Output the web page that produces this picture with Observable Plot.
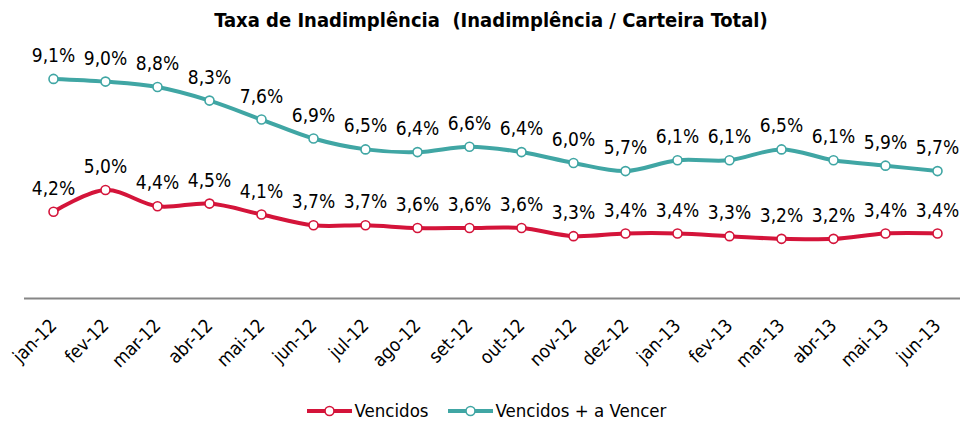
<!DOCTYPE html>
<html>
<head>
<meta charset="utf-8">
<script src="https://cdn.jsdelivr.net/npm/d3@7"></script>
<script src="https://cdn.jsdelivr.net/npm/@observablehq/plot@0.6"></script>
<style>
  html, body { margin: 0; padding: 0; background: #fff; }
  body { width: 960px; height: 423px; overflow: hidden; font-family: "DejaVu Sans Condensed", "DejaVu Sans", sans-serif; }
  #title { height: 40px; line-height: 40px; text-align: center; font-weight: bold; font-size: 20px; color: #000; padding-left: 22px; }
  #chart svg { display: block; }
  #legend { height: 33px; padding-top: 8px; padding-left: 12px; box-sizing: border-box; display: flex; justify-content: center; align-items: center; font-size: 18.5px; color: #000; }
  .item { display: flex; align-items: center; }
  .item svg { display: block; margin-right: 2px; }
</style>
</head>
<body>
<div id="title">Taxa de Inadimplência&nbsp; (Inadimplência / Carteira Total)</div>
<div id="chart"></div>
<div id="legend"></div>
<script>
const months = ["jan-12","fev-12","mar-12","abr-12","mai-12","jun-12","jul-12","ago-12","set-12","out-12","nov-12","dez-12","jan-13","fev-13","mar-13","abr-13","mai-13","jun-13"];
const vencidos = [4.2,5.0,4.4,4.5,4.1,3.7,3.7,3.6,3.6,3.6,3.3,3.4,3.4,3.3,3.2,3.2,3.4,3.4];
const vencidosAVencer = [9.1,9.0,8.8,8.3,7.6,6.9,6.5,6.4,6.6,6.4,6.0,5.7,6.1,6.1,6.5,6.1,5.9,5.7];
const seriesNames = ["Vencidos", "Vencidos + a Vencer"];
const seriesColors = ["#D4143A", "#40A6A4"];

const data = [];
months.forEach((m, i) => {
  data.push({month: m, value: vencidos[i], series: seriesNames[0]});
  data.push({month: m, value: vencidosAVencer[i], series: seriesNames[1]});
});
const fmt = v => v.toFixed(1).replace(".", ",") + "%";
const font = "DejaVu Sans Condensed, DejaVu Sans, sans-serif";

const chart = Plot.plot({
  width: 960,
  height: 350,
  marginLeft: 24,
  marginRight: 0,
  marginTop: 14,
  marginBottom: 92,
  style: {fontFamily: font, background: "#fff"},
  x: {type: "point", domain: months, padding: 0, insetLeft: 26, insetRight: 21, label: null},
  y: {domain: [1, 10], axis: null},
  color: {domain: seriesNames, range: seriesColors},
  marks: [
    Plot.ruleY([1], {stroke: "#868686", strokeWidth: 2}),
    Plot.axisX({tickRotate: -45, tickSize: 0, tickPadding: 24, dx: 0, fontSize: 18.5, label: null, fill: "#000"}),
    Plot.line(data, {x: "month", y: "value", z: "series", stroke: "series", strokeWidth: 4, curve: "catmull-rom"}),
    Plot.dot(data, {x: "month", y: "value", stroke: "series", fill: "#fff", r: 4.5, strokeWidth: 1.6}),
    Plot.text(data, {x: "month", y: "value", text: d => fmt(d.value), dy: -23, fontSize: 19, fill: "#000"})
  ]
});
document.getElementById("chart").appendChild(chart);

const legend = document.getElementById("legend");
seriesNames.forEach((name, i) => {
  const item = document.createElement("div");
  item.className = "item";
  item.style.marginRight = i === 0 ? "18px" : "0";
  item.innerHTML = `<svg width="47" height="12"><line x1="1" x2="46" y1="6" y2="6" stroke="${seriesColors[i]}" stroke-width="4"/><circle cx="23.5" cy="6" r="4.5" fill="#fff" stroke="${seriesColors[i]}" stroke-width="1.6"/></svg><span>${name}</span>`;
  legend.appendChild(item);
});
</script>
</body>
</html>
